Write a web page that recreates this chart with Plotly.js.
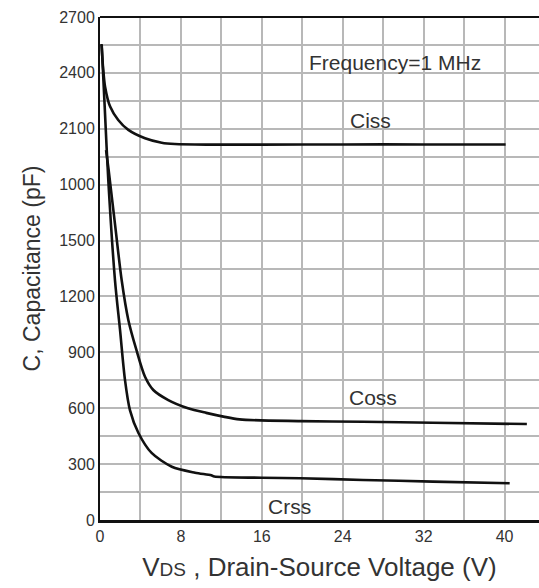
<!DOCTYPE html>
<html>
<head>
<meta charset="utf-8">
<script src="https://cdn.plot.ly/plotly-3.0.1.min.js"></script>
<style>html,body{margin:0;padding:0;background:#fff;}#chart{width:539px;height:588px;}</style>
</head>
<body>
<div id="chart"></div>
<script>
// Data
var cissV = [0.15, 0.3, 0.5, 1.0, 1.8, 2.8, 4.45, 6.1, 7.4, 11, 16, 24, 32, 40.1];
var cissC = [2555, 2430, 2326, 2219, 2147, 2094, 2049, 2025, 2018, 2015, 2015, 2016, 2016, 2016];

var cossV = [0.6, 0.85, 1.5, 2.14, 2.8, 3.6, 4.45, 5.27, 6.75, 8.7, 10.5, 12.2, 13.8, 19.8, 26, 32.9, 42.2];
var cossC = [1985, 1880, 1580, 1288, 1074, 913, 769, 698, 644, 600, 575, 555, 540, 531, 527, 522, 515];

var crssV = [0.17, 0.47, 0.82, 1.48, 1.98, 2.47, 2.96, 3.8, 5.1, 7.1, 9.4, 11.0, 11.3, 16, 19.8, 26, 32.9, 40.5];
var crssC = [2550, 2212, 1825, 1288, 1020, 752, 590, 467, 360, 286, 254, 240, 233, 227, 224, 215, 206, 197];

// Grid positions and tick labels (blank = gridline only)
var xTickVals = [0, 4, 8, 12, 16, 20, 24, 28, 32, 36, 40];
var xTickText = ['0', '', '8', '', '16', '', '24', '', '32', '', '40'];
var yTickVals = [0, 150, 300, 450, 600, 750, 900, 1050, 1200, 1350, 1500, 1650, 1800, 1950, 2100, 2250, 2400, 2550, 2700];
var yTickText = ['0', '', '300', '', '600', '', '900', '', '1200', '', '1500', '', '1000', '', '2100', '', '2400', '', '2700'];

var seriesLabels = ['Ciss', 'Coss', 'Crss'];
var labelPos = [[26.7, 2147], [27.0, 655], [18.7, 70]];
var noteText = 'Frequency=1 MHz';
var notePos = [29.2, 2458];

var lineStyle = {color: '#111', width: 2.6, shape: 'spline', smoothing: 0.8};
var traces = [
  {x: cissV, y: cissC, name: 'Ciss', mode: 'lines', line: lineStyle},
  {x: cossV, y: cossC, name: 'Coss', mode: 'lines', line: lineStyle},
  {x: crssV, y: crssC, name: 'Crss', mode: 'lines', line: lineStyle}
];

var annFont = {family: 'Liberation Sans, Arial, sans-serif', size: 21, color: '#333'};
var annotations = seriesLabels.map(function (t, i) {
  return {x: labelPos[i][0], y: labelPos[i][1], xref: 'x', yref: 'y', text: t,
          showarrow: false, font: annFont, xanchor: 'center', yanchor: 'middle'};
});
annotations.push({x: notePos[0], y: notePos[1], xref: 'x', yref: 'y', text: noteText,
  showarrow: false, font: annFont, xanchor: 'center', yanchor: 'middle'});

var layout = {
  width: 539, height: 588,
  margin: {l: 100, r: 0, t: 17, b: 68},
  paper_bgcolor: '#fff', plot_bgcolor: '#fff',
  showlegend: false,
  font: {family: 'Liberation Sans, Arial, sans-serif', color: '#333'},
  xaxis: {
    range: [0, 43.4], tickmode: 'array', tickvals: xTickVals, ticktext: xTickText,
    showgrid: true, gridcolor: '#b8b8b8', gridwidth: 2,
    showline: true, linecolor: '#111', linewidth: 3,
    zeroline: false, ticks: '', tickfont: {size: 16, color: '#333'},
    title: {text: 'V<span style="font-size:19px">DS</span> , Drain-Source Voltage (V)',
            font: {size: 26, color: '#333'}, standoff: 14}
  },
  yaxis: {
    range: [0, 2700], tickmode: 'array', tickvals: yTickVals, ticktext: yTickText,
    showgrid: true, gridcolor: '#b8b8b8', gridwidth: 2,
    showline: true, linecolor: '#111', linewidth: 2,
    zeroline: false, ticks: '', tickfont: {size: 16, color: '#333'},
    ticklabelstandoff: 0,
    title: {text: 'C, Capacitance (pF)', font: {size: 23, color: '#333'}, standoff: 12}
  },
  shapes: [
    {type: 'line', xref: 'paper', yref: 'paper', x0: 0, x1: 1, y0: 1, y1: 1,
     line: {color: '#111', width: 2}}
  ],
  annotations: annotations
};

Plotly.newPlot('chart', traces, layout, {displayModeBar: false, staticPlot: true});
</script>
</body>
</html>
